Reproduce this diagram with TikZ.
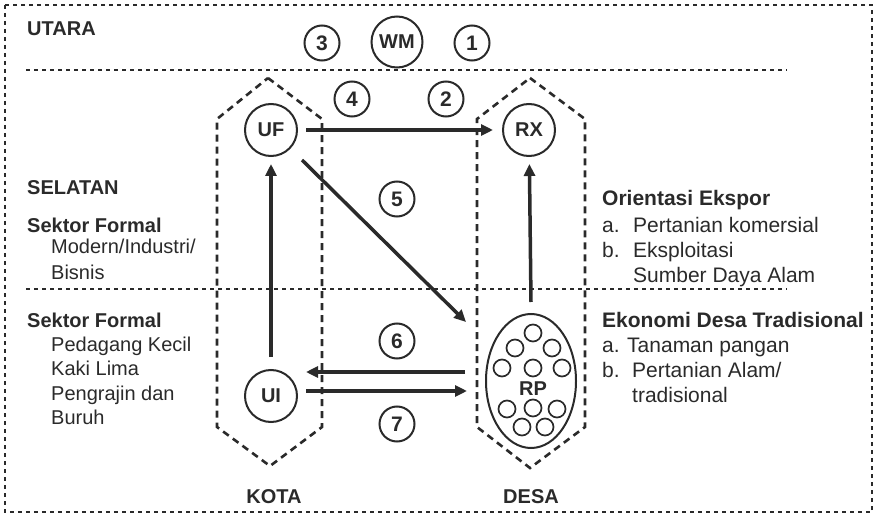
\documentclass[tikz,border=0pt]{standalone}
\usepackage{fontspec}
\setmainfont{Liberation Sans}
\usetikzlibrary{arrows.meta,shapes.geometric}
\definecolor{ink}{HTML}{2A2A2A}
\begin{document}
\begin{tikzpicture}[x=1pt,y=-1pt,
  every node/.style={text=ink},
  txt/.style={anchor=base west,inner sep=0pt,font=\fontsize{20}{24}\selectfont},
  txtr/.style={anchor=base west,inner sep=0pt,font=\fontsize{21}{25}\selectfont},
  head/.style={txt,font=\fontsize{20}{24}\selectfont\bfseries},
  headr/.style={txt,font=\fontsize{21}{25}\selectfont\bfseries},
  numc/.style={circle,draw=ink,line width=2pt,minimum size=35pt,inner sep=0pt,
    font=\fontsize{21}{24}\selectfont\bfseries},
  actor/.style={circle,draw=ink,line width=2pt,minimum size=52pt,inner sep=0pt,
    font=\fontsize{20}{24}\selectfont\bfseries},
  dot/.style={circle,draw=ink,line width=1.7pt,minimum size=17pt,inner sep=0pt},
  zone/.style={draw=ink,line width=2.6pt,dash pattern=on 7pt off 5pt},
  sep/.style={draw=ink,line width=1.3pt,dash pattern=on 4pt off 4pt},
  arr/.style={draw=ink,line width=3.5pt,-{Triangle[length=12pt,width=11pt]}}]
\useasboundingbox (0,0) rectangle (876,516);

% frame and north/south separators
\draw[sep] (5,5) rectangle (872,512);
\draw[sep] (26,70) -- (787,70);
\draw[sep] (26,289) -- (787,289);

% city and village zones
\draw[zone] (268,78) -- (322,119) -- (322,427) -- (270,466) -- (217,427) -- (217,119) -- cycle;
\draw[zone] (530,78) -- (585,119) -- (585,427) -- (530,468) -- (477,427) -- (477,119) -- cycle;

% north
\node[head] (utara) at (27,36) {UTARA};
\node[numc] (n3) at (322,43) {3};
\node[actor,minimum size=51pt] (wm) at (397,42) {WM};
\node[numc] (n1) at (472,43) {1};
\node[numc] (n4) at (352,99) {4};
\node[numc] (n2) at (446,99) {2};

% actors
\node[actor] (uf) at (271,130) {UF};
\node[actor] (rx) at (529,130) {RX};
\node[actor] (ui) at (271,396) {UI};
\node[ellipse,draw=ink,line width=2pt,minimum width=90pt,minimum height=134pt,inner sep=0pt] (rp) at (531,381) {};
\node[font=\fontsize{20}{24}\selectfont\bfseries,inner sep=0pt] (rpl) at (533,389) {RP};
\node[dot] (p1) at (533,333) {};
\node[dot] (p2) at (515,348) {};
\node[dot] (p3) at (552,348) {};
\node[dot] (p4) at (502,368) {};
\node[dot] (p5) at (533,368) {};
\node[dot] (p6) at (562,368) {};
\node[dot] (p7) at (507,409) {};
\node[dot] (p8) at (533,408) {};
\node[dot] (p9) at (557,409) {};
\node[dot] (p10) at (522,427) {};
\node[dot] (p11) at (545,427) {};

\node[numc] (n5) at (397,199) {5};
\node[numc] (n6) at (397,341) {6};
\node[numc] (n7) at (397,424) {7};

% flows
\draw[arr,shorten <=8pt,shorten >=9pt] (uf) -- (rx);
\draw[arr,shorten <=12pt,shorten >=7pt] (ui) -- (uf);
\draw[arr,shorten >=7pt] ([yshift=11pt]rp.north) -- (rx);
\draw[arr] ([shift={(31,30)}]uf.center) -- ([shift={(-65,-59)}]rp.center);
\draw[arr] ([shift={(-20,-9)}]rp.west) -- ([shift={(8,-24)}]ui.east);
\draw[arr] ([shift={(8,-5)}]ui.east) -- ([shift={(-18,10)}]rp.west);

% south, left column
\node[head] (selatan) at (27,194) {SELATAN};
\node[head] (sf1) at (27,232) {Sektor Formal};
\node[txt] (sf1a) at (51,253) {Modern/Industri/};
\node[txt] (sf1b) at (51,279) {Bisnis};
\node[head] (sf2) at (27,327) {Sektor Formal};
\node[txt] (sf2a) at (51,351) {Pedagang Kecil};
\node[txt] (sf2b) at (51,375) {Kaki Lima};
\node[txt] (sf2c) at (51,400) {Pengrajin dan};
\node[txt] (sf2d) at (51,424) {Buruh};

% south, right column
\node[headr] (oe) at (602,206) {Orientasi Ekspor};
\node[txtr] (oea) at (602,232) {a.};
\node[txtr] (oea2) at (633,232) {Pertanian komersial};
\node[txtr] (oeb) at (602,257) {b.};
\node[txtr] (oeb2) at (633,257) {Eksploitasi};
\node[txtr] (oeb3) at (633,282) {Sumber Daya Alam};
\node[headr] (ed) at (602,327) {Ekonomi Desa Tradisional};
\node[txtr] (eda) at (602,352) {a.};
\node[txtr] (eda2) at (627,352) {Tanaman pangan};
\node[txtr] (edb) at (602,377) {b.};
\node[txtr] (edb2) at (632,377) {Pertanian Alam/};
\node[txtr] (edb3) at (632,402) {tradisional};

% zone labels
\node[head,anchor=base] (kota) at (274,503) {KOTA};
\node[head,anchor=base] (desa) at (531,503) {DESA};
\end{tikzpicture}
\end{document}
